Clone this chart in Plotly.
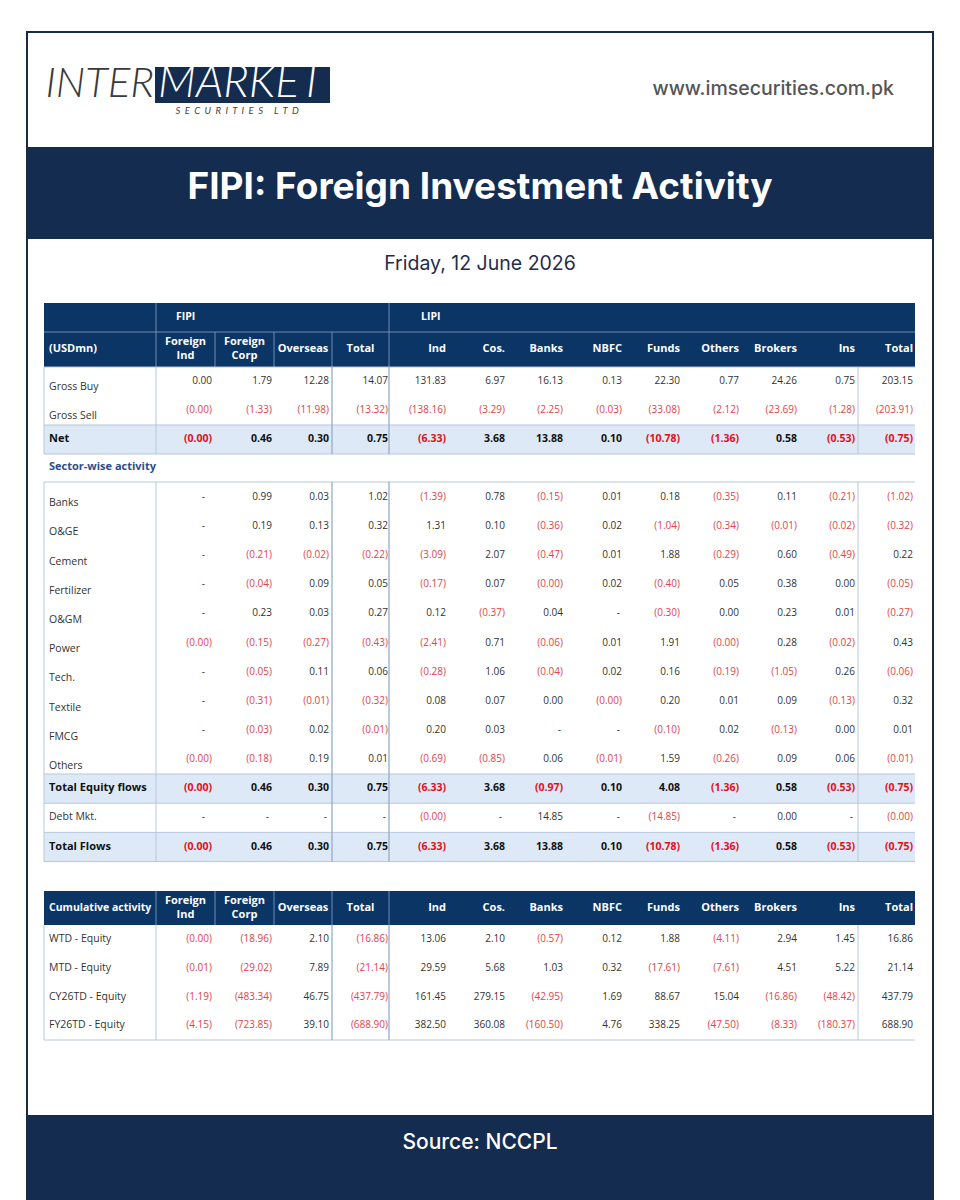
import math
import plotly.graph_objects as go

# ---------------- data ----------------
fipi_cols = ["Foreign<br>Ind", "Foreign<br>Corp", "Overseas", "Total"]
lipi_cols = ["Ind", "Cos.", "Banks", "NBFC", "Funds", "Others", "Brokers", "Ins", "Total"]

flow_labels = ["Gross Buy", "Gross Sell", "Net"]
gross_buy = [0.00, 1.79, 12.28, 14.07, 131.83, 6.97, 16.13, 0.13, 22.30, 0.77, 24.26, 0.75, 203.15]
gross_sell = [-0.0, -1.33, -11.98, -13.32, -138.16, -3.29, -2.25, -0.03, -33.08, -2.12, -23.69, -1.28, -203.91]
net = [-0.0, 0.46, 0.30, 0.75, -6.33, 3.68, 13.88, 0.10, -10.78, -1.36, 0.58, -0.53, -0.75]

sector_labels = ["Banks", "O&GE", "Cement", "Fertilizer", "O&GM", "Power", "Tech.", "Textile", "FMCG", "Others"]
sec_banks = [None, 0.99, 0.03, 1.02, -1.39, 0.78, -0.15, 0.01, 0.18, -0.35, 0.11, -0.21, -1.02]
sec_oge = [None, 0.19, 0.13, 0.32, 1.31, 0.10, -0.36, 0.02, -1.04, -0.34, -0.01, -0.02, -0.32]
sec_cement = [None, -0.21, -0.02, -0.22, -3.09, 2.07, -0.47, 0.01, 1.88, -0.29, 0.60, -0.49, 0.22]
sec_fert = [None, -0.04, 0.09, 0.05, -0.17, 0.07, -0.0, 0.02, -0.40, 0.05, 0.38, 0.00, -0.05]
sec_ogm = [None, 0.23, 0.03, 0.27, 0.12, -0.37, 0.04, None, -0.30, 0.00, 0.23, 0.01, -0.27]
sec_power = [-0.0, -0.15, -0.27, -0.43, -2.41, 0.71, -0.06, 0.01, 1.91, -0.0, 0.28, -0.02, 0.43]
sec_tech = [None, -0.05, 0.11, 0.06, -0.28, 1.06, -0.04, 0.02, 0.16, -0.19, -1.05, 0.26, -0.06]
sec_textile = [None, -0.31, -0.01, -0.32, 0.08, 0.07, 0.00, -0.0, 0.20, 0.01, 0.09, -0.13, 0.32]
sec_fmcg = [None, -0.03, 0.02, -0.01, 0.20, 0.03, None, None, -0.10, 0.02, -0.13, 0.00, 0.01]
sec_others = [-0.0, -0.18, 0.19, 0.01, -0.69, -0.85, 0.06, -0.01, 1.59, -0.26, 0.09, 0.06, -0.01]

summary_labels = ["Total Equity flows", "Debt Mkt.", "Total Flows"]
total_equity = [-0.0, 0.46, 0.30, 0.75, -6.33, 3.68, -0.97, 0.10, 4.08, -1.36, 0.58, -0.53, -0.75]
debt_mkt = [None, None, None, None, -0.0, None, 14.85, None, -14.85, None, 0.00, None, -0.0]
total_flows = [-0.0, 0.46, 0.30, 0.75, -6.33, 3.68, 13.88, 0.10, -10.78, -1.36, 0.58, -0.53, -0.75]

cum_labels = ["WTD - Equity", "MTD - Equity", "CY26TD - Equity", "FY26TD - Equity"]
cum_wtd = [-0.0, -18.96, 2.10, -16.86, 13.06, 2.10, -0.57, 0.12, 1.88, -4.11, 2.94, 1.45, 16.86]
cum_mtd = [-0.01, -29.02, 7.89, -21.14, 29.59, 5.68, 1.03, 0.32, -17.61, -7.61, 4.51, 5.22, 21.14]
cum_cy = [-1.19, -483.34, 46.75, -437.79, 161.45, 279.15, -42.95, 1.69, 88.67, 15.04, -16.86, -48.42, 437.79]
cum_fy = [-4.15, -723.85, 39.10, -688.90, 382.50, 360.08, -160.50, 4.76, 338.25, -47.50, -8.33, -180.37, 688.90]

title_text = "FIPI: Foreign Investment Activity"
date_text = "Friday, 12 June 2026"
url_text = "www.imsecurities.com.pk"
source_text = "Source: NCCPL"

# ---------------- style / layout constants ----------------
W, H = 960, 1200
NAVY_BAND = "#132c4f"
NAVY_HDR = "#0a3565"
ROW_FILL = "#dde9f6"
GRID = "#b7c7da"
GRID_D = "#97adc6"
HDR_LINE = "#6f8db3"
TXT = "#333333"
TXT_B = "#111111"
RED = "#e2434b"
RED_B = "#e0101a"
FONT = "Open Sans"
HFONT = "Inter"

edges = [44, 156, 215, 274, 332, 389, 448, 506, 565, 623, 682, 740, 798, 857, 915]
anchors = [212, 272, 329, 388, 446, 505, 563, 622, 680, 739, 797, 855, 913]
dash_shift = [7, 3, 2, 2, 3, 3, 2, 2, 3, 3, 3, 2, 3]
TL, TR = 44, 915

shapes = []
def rect(x0, y0, x1, y1, fill, lw=0, lc=None):
    shapes.append(dict(type="rect", xref="x", yref="y", x0=x0, y0=y0, x1=x1, y1=y1,
                       fillcolor=fill, line=dict(width=lw, color=lc or fill), layer="below"))
def line(x0, y0, x1, y1, color, w=1):
    shapes.append(dict(type="line", xref="x", yref="y", x0=x0, y0=y0, x1=x1, y1=y1,
                       line=dict(width=w, color=color), layer="above"))

fig = go.Figure()

def fmt(v):
    if v is None:
        return "-"
    if v < 0 or (v == 0 and math.copysign(1, v) < 0):
        return "(%s)" % format(abs(v), ",.2f")
    return format(v, ",.2f")

def is_neg(v):
    return v is not None and (v < 0 or (v == 0 and math.copysign(1, v) < 0))

def text_trace(xs, ys, texts, pos, family, size, color, weight=400, style="normal"):
    fig.add_trace(go.Scatter(x=xs, y=ys, mode="text", text=texts, textposition=pos,
                             textfont=dict(family=family, size=size, color=color,
                                           weight=weight, style=style),
                             hoverinfo="skip", showlegend=False, cliponaxis=False))

def add_values(vals, y, bold=False):
    xs, ts, cs = [], [], []
    for i, v in enumerate(vals):
        xs.append(anchors[i] - (dash_shift[i] if v is None else 0))
        ts.append(fmt(v))
        if is_neg(v):
            cs.append(RED_B if bold else RED)
        else:
            cs.append(TXT_B if bold else TXT)
    text_trace(xs, [y] * len(xs), ts, "middle left", FONT,
               10.5 if bold else 10, cs, 700 if bold else 400)

def add_label(text, x, y, bold=False, color=None, size=10.5):
    text_trace([x], [y], [text], "middle right", FONT, size,
               color or (TXT_B if bold else TXT), 700 if bold else 400)

def add_header_cols(y):
    xs = [(edges[i] + edges[i + 1]) / 2 for i in range(1, 5)]
    text_trace(xs, [y] * 4, fipi_cols, "middle center", FONT, 11, "white", 700)
    text_trace(anchors[4:], [y] * 9, lipi_cols, "middle left", FONT, 11, "white", 700)

# ---------------- page frame ----------------
rect(27, 32, 933, 1210, "white", 2, "#1b2a44")
rect(28, 147, 932, 239, NAVY_BAND)
rect(28, 1115, 932, 1210, NAVY_BAND)

# logo
rect(155, 67, 330, 103, NAVY_BAND)
text_trace([154], [86], ["INTER"], "middle left", "Lato", 42, "#3a3a3a", 300, "italic")
text_trace([158], [86], ["MARKET"], "middle right", "Lato", 45, "white", 300, "italic")
text_trace([237], [112], ["S  E  C  U  R  I  T  I  E  S     L  T  D"], "middle center",
           "Lato", 9.5, "#444444", 400, "italic")
text_trace([894], [90], [url_text], "middle left", HFONT, 19.5, "#555555", 500)
text_trace([480], [190], [title_text], "middle center", HFONT, 37, "white", 700)
text_trace([480], [265], [date_text], "middle center", HFONT, 19.5, "#1f2d4d", 400)
text_trace([480], [1144], [source_text], "middle center", HFONT, 21, "white", 500)

# ---------------- main table header ----------------
rect(TL, 303, TR, 367, NAVY_HDR)
line(TL, 332, TR, 332, HDR_LINE, 1)
for x in (156, 389):
    line(x, 303, x, 332, HDR_LINE, 1)
for x in (156, 215, 274, 332, 389):
    line(x, 332, x, 367, HDR_LINE, 1)
add_label("FIPI", 176, 317, bold=True, color="white", size=10.5)
add_label("LIPI", 421, 317, bold=True, color="white", size=10.5)
add_label("(USDmn)", 49, 349, bold=True, color="white", size=11)
add_header_cols(349)

# ---------------- flows rows ----------------
flow_tops = [367, 396, 425]
rect(TL, 425, TR, 454, ROW_FILL)
for v, lab, t in zip([gross_buy, gross_sell, net], flow_labels, flow_tops):
    bold = lab == "Net"
    add_values(v, t + 14.5 if bold else t + 14, bold=bold)
    add_label(lab, 49, t + 14.5 if bold else t + 20, bold=bold, size=11 if bold else 10.5)
for y in (367, 425, 454):
    line(TL, y, TR, y, GRID, 1)
line(TL, 367, TL, 454, GRID, 1)
line(156, 367, 156, 454, GRID, 1)
for x in (332, 389):
    line(x, 367, x, 454, GRID_D, 1.3)
line(858, 367, 858, 454, GRID, 1)

add_label("Sector-wise activity", 49, 467, bold=True, color="#2d4d8c", size=11)

# ---------------- sector rows ----------------
sector_vals = [sec_banks, sec_oge, sec_cement, sec_fert, sec_ogm, sec_power,
               sec_tech, sec_textile, sec_fmcg, sec_others]
S0, SP = 482, 29.2
for i, (lab, vals) in enumerate(zip(sector_labels, sector_vals)):
    t = S0 + i * SP
    add_values(vals, t + 15)
    add_label(lab, 49, t + 21.5)

sum_top = S0 + 10 * SP
sum_vals = [total_equity, debt_mkt, total_flows]
for j, (lab, vals) in enumerate(zip(summary_labels, sum_vals)):
    t = sum_top + j * SP
    bold = lab != "Debt Mkt."
    if bold:
        rect(TL, t, TR, t + SP, ROW_FILL)
    add_values(vals, t + 14.5, bold=bold)
    add_label(lab, 49, t + 14.5, bold=bold, size=11 if bold else 10.5)
sec_bottom = sum_top + 3 * SP
for y in [S0, sum_top, sum_top + SP, sum_top + 2 * SP, sec_bottom]:
    line(TL, y, TR, y, GRID, 1)
line(TL, S0, TL, sec_bottom, GRID, 1)
line(156, S0, 156, sec_bottom, GRID, 1)
for x in (332, 389):
    line(x, S0, x, sec_bottom, GRID_D, 1.3)
line(858, S0, 858, sec_bottom, GRID, 1)

# ---------------- cumulative table ----------------
C0, C1 = 891, 925
rect(TL, C0, TR, C1, NAVY_HDR)
for x in (156, 215, 274, 332, 389):
    line(x, C0, x, C1, HDR_LINE, 1)
add_label("Cumulative activity", 49, 908, bold=True, color="white", size=10.5)
add_header_cols(908)
CP = 28.75
for i, (lab, vals) in enumerate(zip(cum_labels, [cum_wtd, cum_mtd, cum_cy, cum_fy])):
    t = C1 + i * CP
    add_values(vals, t + 14.5)
    add_label(lab, 49, t + 14.5)
c_bottom = C1 + 4 * CP
line(TL, c_bottom, TR, c_bottom, GRID, 1)
line(TL, C1, TL, c_bottom, GRID, 1)
line(156, C1, 156, c_bottom, GRID, 1)
for x in (332, 389):
    line(x, C1, x, c_bottom, GRID_D, 1.3)
line(858, C1, 858, c_bottom, GRID, 1)

fig.update_layout(
    width=W, height=H, margin=dict(l=0, r=0, t=0, b=0),
    paper_bgcolor="white", plot_bgcolor="white",
    xaxis=dict(range=[0, W], visible=False, fixedrange=True),
    yaxis=dict(range=[H, 0], visible=False, fixedrange=True),
    shapes=shapes, showlegend=False,
)
fig.write_html("out.html", config={"displayModeBar": False},
               post_script="document.body.style.margin='0';document.body.style.overflow='hidden';")
